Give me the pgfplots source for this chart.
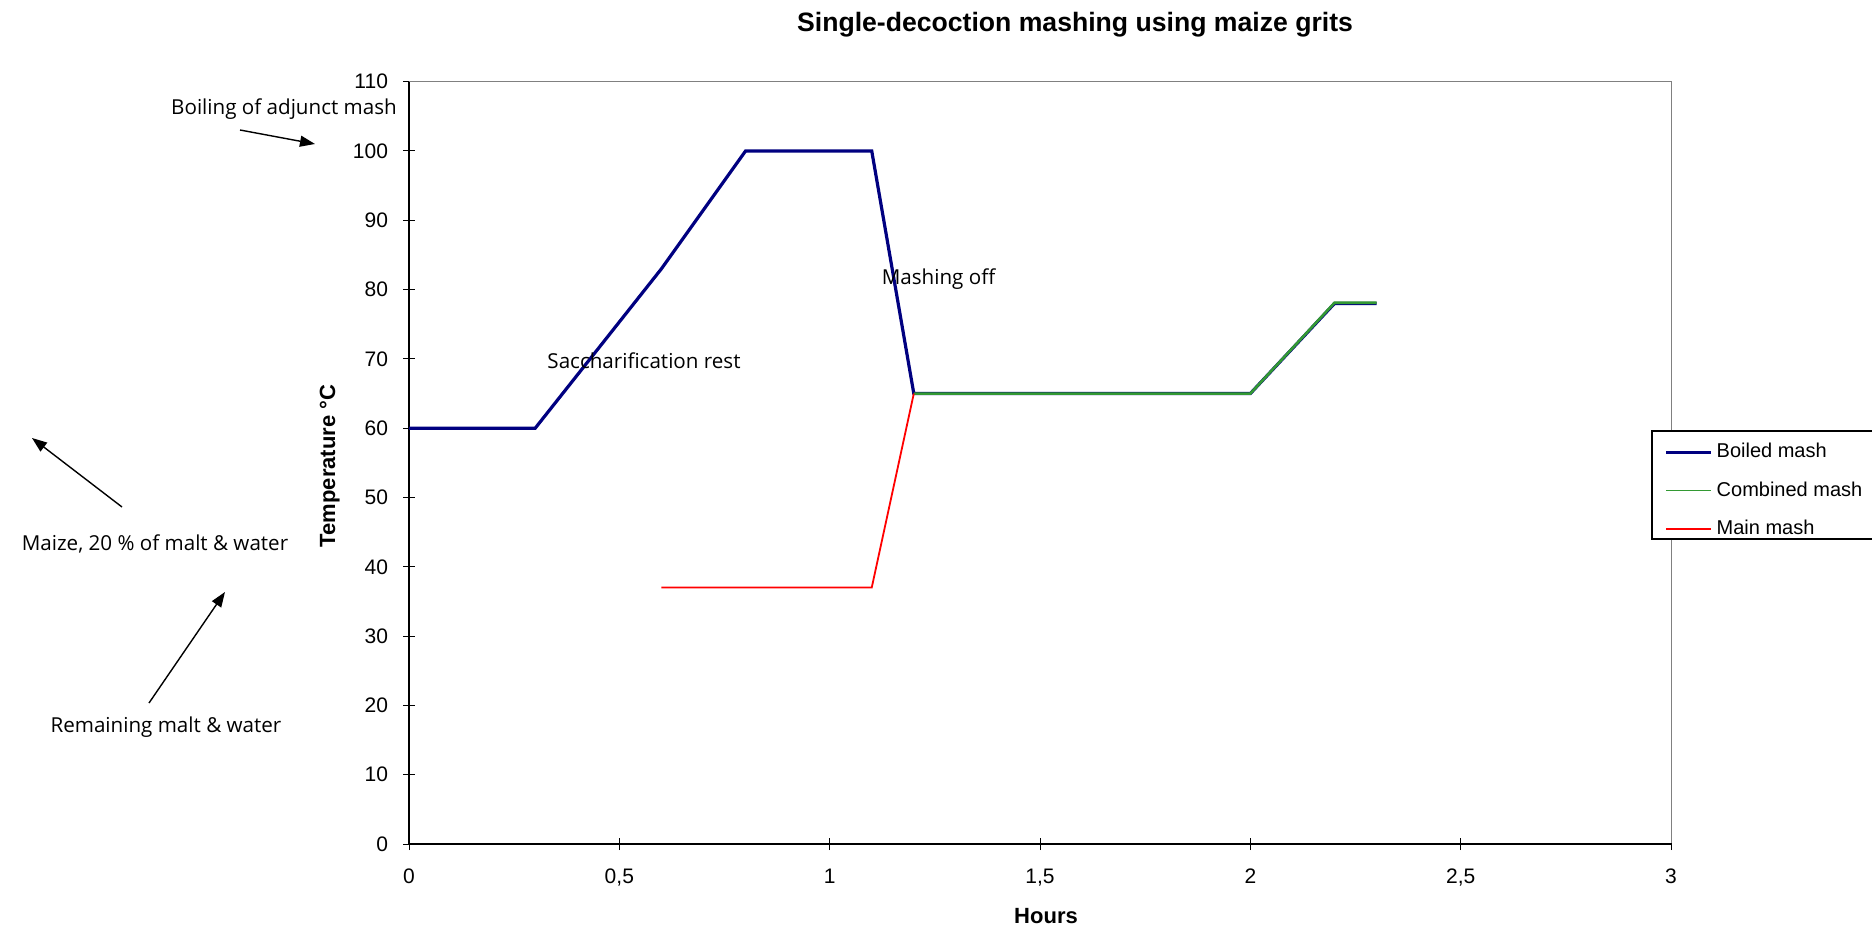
\documentclass[border=0pt]{standalone}
\usepackage{fontspec}
\setmainfont{Liberation Sans}
\newfontfamily\annotfont{Open Sans}
\usepackage{pgfplots}
\pgfplotsset{compat=1.18}
\usetikzlibrary{arrows.meta}

\definecolor{boiled}{HTML}{000080}
\definecolor{combined}{HTML}{339933}
\definecolor{mainmash}{HTML}{FF0000}
\definecolor{framegray}{HTML}{808080}

\begin{document}
\begin{tikzpicture}[x=1pt,y=1pt]
\path[use as bounding box] (0,0) rectangle (936,464);
\clip (0,0) rectangle (936,464);

\begin{axis}[
    at={(204.5pt,42pt)}, anchor=south west,
    scale only axis, width=631pt, height=381.15pt,
    xmin=0, xmax=3, ymin=0, ymax=110,
    axis x line*=bottom, axis y line*=left,
    axis line style={-, black, line width=0.8pt},
    xtick={0,0.5,1,1.5,2,2.5,3},
    ytick={0,10,20,30,40,50,60,70,80,90,100,110},
    tick align=center, major tick length=6pt,
    tick style={black, line width=0.5pt},
    /pgf/number format/.cd, use comma, 1000 sep={}, assume math mode=true,
    /pgfplots/.cd,
    ticklabel style={font=\fontsize{10.5}{12}\selectfont},
    xticklabel style={yshift=-6pt},
    yticklabel style={xshift=-4pt},
    legend style={at={(axis description cs:0.985,0.5418)}, anchor=north west,
        draw=none, fill=none,
        font=\fontsize{10}{12}\selectfont,
        inner xsep=6pt, inner ysep=4pt, row sep=6.5pt},
    legend cell align=left,
    legend image code/.code={\draw[#1] (0pt,0pt) -- (22.5pt,0pt);},
]
\addplot[boiled, line width=1.6pt, line join=miter] coordinates {
    (0,60) (0.3,60) (0.6,83) (0.8,100) (1.1,100) (1.2,65) (2,65) (2.2,78) (2.3,78)};
\addlegendentry{Boiled mash}
\addplot[combined, line width=1.3pt, legend image post style={line width=0.7pt}] coordinates {
    (1.2,65) (2,65) (2.2,78.1) (2.3,78.1)};
\addlegendentry{Combined mash}
\addplot[mainmash, line width=0.9pt, legend image post style={line width=0.7pt}] coordinates {
    (0.6,37) (1.1,37) (1.2,65)};
\addlegendentry{Main mash}
\end{axis}

% grey top and right frame, interrupted by the legend box
\draw[framegray, line width=0.5pt] (204.5,423.15) -- (835.5,423.15) -- (835.5,248.5);
\draw[framegray, line width=0.5pt] (835.5,194.5) -- (835.5,42.4);
% legend box (runs past the right edge)
\draw[black, line width=0.6pt] (826,194.5) rectangle (945,248.5);

% title and axis labels
\node[anchor=base, font=\fontsize{13.3}{15}\bfseries] at (537.5,448) {Single-decoction mashing using maize grits};
\node[anchor=base, font=\fontsize{11}{13}\bfseries] at (523,2.5) {Hours};
\node[anchor=base, rotate=90, font=\fontsize{11}{13}\bfseries] at (167.5,231) {Temperature °C};

% annotations
\begin{scope}[every node/.style={anchor=base, font=\annotfont\fontsize{10.3}{12}\selectfont}]
\node at (142,406.5) {Boiling of adjunct mash};
\node at (322,279.5) {Saccharification rest};
\node at (469.25,321.5) {Mashing off};
\node at (77.5,189) {Maize, 20 \% of malt \& water};
\node at (83,98) {Remaining malt \& water};
\end{scope}
\begin{scope}[line width=0.7pt, -{Triangle[length=7.5pt,width=5.5pt]}]
\draw (120,399) -- (157.5,392);
\draw (61,210.5) -- (16,245);
\draw (74.5,112.5) -- (112.5,168);
\end{scope}
\end{tikzpicture}
\end{document}
